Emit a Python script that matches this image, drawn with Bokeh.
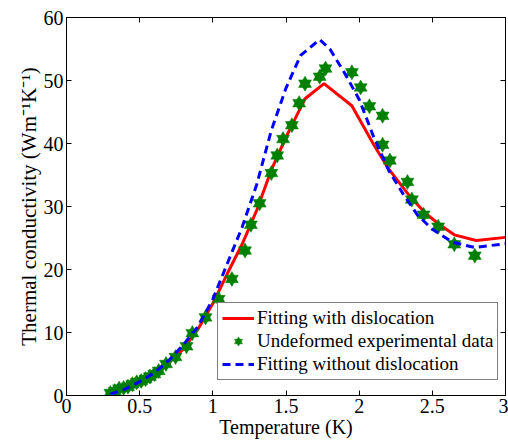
from bokeh.plotting import figure
from bokeh.models import (LinearAxis, FixedTicker, Range1d, Legend, LegendItem)
from bokeh.embed import file_html
from bokeh.resources import INLINE

# ---- data ----
x_red = [0.30, 0.40, 0.50, 0.60, 0.70, 0.80, 0.90, 1.00, 1.10, 1.20, 1.30, 1.40, 1.50,
         1.60, 1.63, 1.76, 1.95, 2.10, 2.20, 2.34, 2.45, 2.55, 2.65, 2.80, 3.00]
y_red = [0.4, 1.1, 2.2, 3.4, 5.2, 7.4, 10.6, 14.6, 19.4, 24.0, 29.4, 35.8, 41.0,
         45.7, 47.1, 49.5, 46.0, 39.8, 36.0, 31.8, 29.0, 27.1, 25.5, 24.6, 25.1]

x_blue = [0.30, 0.40, 0.50, 0.60, 0.70, 0.80, 0.90, 1.00, 1.10, 1.20, 1.30, 1.40, 1.50,
          1.60, 1.73, 1.80, 1.90, 2.00, 2.10, 2.20, 2.30, 2.40, 2.50, 2.64, 2.79, 3.00]
y_blue = [0.2, 1.0, 2.2, 3.6, 5.6, 8.1, 11.0, 15.3, 21.0, 26.7, 33.5, 42.1, 48.8,
          54.0, 56.5, 55.0, 51.2, 47.0, 41.0, 35.8, 32.0, 28.6, 26.4, 24.3, 23.5, 24.1]

x_exp = [0.30, 0.33, 0.36, 0.39, 0.42, 0.45, 0.48, 0.51, 0.54, 0.57, 0.60, 0.63, 0.68,
         0.745, 0.82, 0.86, 0.95, 1.04, 1.13, 1.22, 1.26, 1.32, 1.40, 1.44, 1.48, 1.54,
         1.59, 1.63, 1.73, 1.77, 1.95, 2.01, 2.07, 2.16, 2.16, 2.21, 2.33, 2.36, 2.44,
         2.54, 2.65, 2.79]
y_exp = [0.4, 0.7, 1.1, 1.2, 1.4, 1.8, 2.1, 2.3, 2.6, 3.0, 3.4, 3.9, 5.0,
         6.1, 7.8, 9.9, 12.4, 15.3, 18.5, 23.0, 27.1, 30.5, 35.3, 38.1, 40.7, 42.9,
         46.4, 49.5, 50.6, 51.9, 51.3, 48.9, 45.9, 44.4, 39.8, 37.3, 33.9, 31.1, 28.7,
         26.8, 24.0, 22.2]

x_ticks = [0, 0.5, 1, 1.5, 2, 2.5, 3]
x_tick_labels = ["0", "0.5", "1", "1.5", "2", "2.5", "3"]
y_ticks = [0, 10, 20, 30, 40, 50, 60]
y_tick_labels = ["0", "10", "20", "30", "40", "50", "60"]

FONT = "Liberation Serif"

p = figure(width=508, height=441, output_backend="svg", toolbar_location=None,
           x_range=Range1d(0, 3), y_range=Range1d(0, 60),
           min_border_left=66, min_border_right=3, min_border_top=17, min_border_bottom=46)
p.grid.visible = False
p.outline_line_color = "black"
p.outline_line_width = 1
p.background_fill_color = "white"
p.border_fill_color = "white"

for ax, ticks, labels in ((p.xaxis[0], x_ticks, x_tick_labels), (p.yaxis[0], y_ticks, y_tick_labels)):
    ax.ticker = FixedTicker(ticks=ticks)
    ax.major_label_overrides = {t: l for t, l in zip(ticks, labels)}
    ax.major_tick_in = 5
    ax.major_tick_out = 0
    ax.minor_tick_line_color = None
    ax.axis_line_color = "black"
    ax.major_label_text_font = FONT
    ax.major_label_text_font_size = "20px"
    ax.major_label_text_color = "black"
    ax.axis_label_text_font = FONT
    ax.axis_label_text_font_style = "normal"
    ax.axis_label_text_color = "black"
    ax.axis_label_standoff = 0
p.xaxis.axis_label_text_font_size = "20px"
p.yaxis.axis_label_text_font_size = "21px"
p.xaxis.major_label_standoff = 3
p.yaxis.major_label_standoff = 3

p.xaxis.axis_label = "Temperature (K)"
p.yaxis.axis_label = "Thermal conductivity (Wm\u207b\u00b9K\u207b\u00b9)"

for loc, ticks in (("above", x_ticks), ("right", y_ticks)):
    ax = LinearAxis(ticker=FixedTicker(ticks=ticks))
    ax.major_tick_in = 5
    ax.major_tick_out = 0
    ax.minor_tick_line_color = None
    ax.major_label_overrides = {t: "" for t in ticks}
    ax.major_label_standoff = 0
    ax.axis_line_color = "black"
    p.add_layout(ax, loc)

r_red = p.line(x_red, y_red, line_color="#ff0000", line_width=3)
r_t1 = p.scatter(x_exp, y_exp, marker="triangle", size=13, fill_color="#008000",
                 line_color="#008000", line_width=0.5)
r_t2 = p.scatter(x_exp, y_exp, marker="inverted_triangle", size=13, fill_color="#008000",
                 line_color="#008000", line_width=0.5)
r_blue = p.line(x_blue, y_blue, line_color="#0000ff", line_width=3, line_dash="8 5")

legend = Legend(items=[
    LegendItem(label="Fitting with dislocation", renderers=[r_red]),
    LegendItem(label="Undeformed experimental data", renderers=[r_t1, r_t2]),
    LegendItem(label="Fitting without dislocation", renderers=[r_blue]),
], location=(151, 15))
legend.label_text_font = FONT
legend.label_text_font_size = "19px"
legend.label_text_color = "black"
legend.border_line_color = "black"
legend.border_line_width = 1
legend.background_fill_alpha = 1
legend.glyph_width = 32
legend.glyph_height = 20
legend.label_height = 20
legend.spacing = 1
legend.padding = 4
legend.margin = 0
legend.label_standoff = 3
p.add_layout(legend, "center")

open("out.html", "w").write(file_html(p, INLINE))
